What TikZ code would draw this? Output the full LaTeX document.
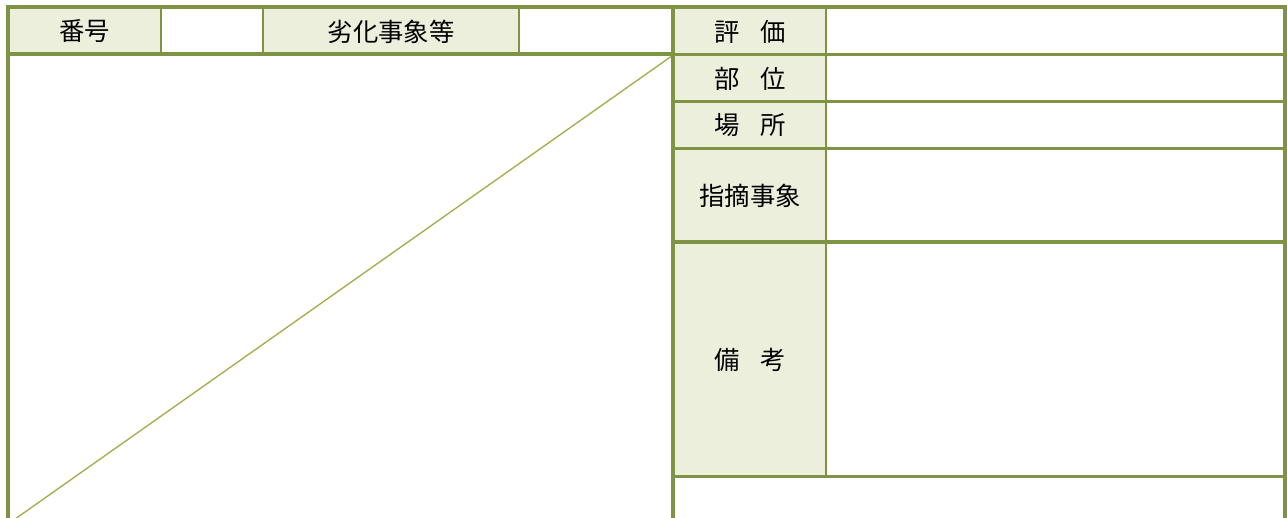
\documentclass[tikz,border=0pt]{standalone}
\usepackage{fontspec}
\newfontfamily\jpfont{Noto Sans CJK JP}
\definecolor{olivebd}{HTML}{7E9444}
\definecolor{olivefill}{HTML}{EBEFDB}
\definecolor{olivediag}{HTML}{9BB14A}
\newcommand{\jsp}{\hspace{15.5pt}}
\tikzset{
  thickrule/.style={draw=olivebd, line width=3pt},
  thinrule/.style={draw=olivebd, line width=2pt},
  midrule/.style={draw=olivebd, line width=2.3pt},
  labelfill/.style={fill=olivefill},
  lbl/.style={font=\jpfont\fontsize{19pt}{22pt}\selectfont, text=black, inner sep=0pt, anchor=center},
  diagline/.style={draw=olivediag, line width=1pt}
}
\begin{document}
\begin{tikzpicture}[x=0.75pt, y=-0.75pt]
\useasboundingbox (0,0) rectangle (1287,517);
\fill[white] (0,0) rectangle (1287,517);
% fills
\fill[labelfill] (7.5,7.5) rectangle (161,54.5);
\fill[labelfill] (263,7.5) rectangle (519,54.5);
\fill[labelfill] (672.5,7.5) rectangle (826,476.5);
% diagonal
\coordinate (dA) at (672.5,55.5);
\coordinate (dB) at (13.7,520);
\draw[diagline] (dA) -- (dB);
% thin lines
\draw[thinrule] (161,7.5) -- (161,54.5);
\draw[thinrule] (263,7.5) -- (263,54.5);
\draw[thinrule] (519,7.5) -- (519,54.5);
\draw[thinrule] (826,7.5) -- (826,476.5);
\draw[midrule] (672.5,54.5) -- (1285,54.5);
\draw[midrule] (672.5,101.5) -- (1285,101.5);
\draw[midrule] (672.5,148.5) -- (1285,148.5);
\draw[midrule] (672.5,242) -- (1285,242);
\draw[midrule] (672.5,476.5) -- (1285,476.5);
% thick lines
\draw[thickrule] (7.5,54.5) -- (672.5,54.5);
\draw[thickrule] (672.5,7.5) -- (672.5,520);
\draw[thickrule] (7.5,520) -- (7.5,7.5) -- (1285,7.5) -- (1285,520);
% labels
\node[lbl] (bango) at (84.5,31.5) {番号};
\node[lbl] (rekka) at (391,31.5) {劣化事象等};
\node[lbl] (hyoka) at (750,31.5) {評\jsp 価};
\node[lbl] (bui) at (750,78.5) {部\jsp 位};
\node[lbl] (basho) at (750,125.5) {場\jsp 所};
\node[lbl] (shiteki) at (750,195.5) {指摘事象};
\node[lbl] (biko) at (750,359.5) {備\jsp 考};
\end{tikzpicture}
\end{document}
